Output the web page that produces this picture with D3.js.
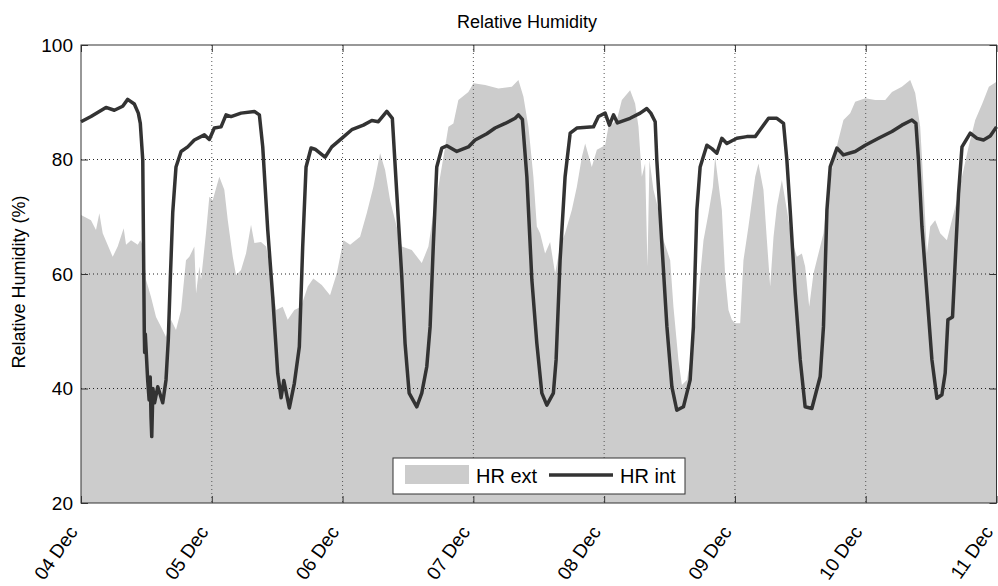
<!DOCTYPE html>
<html>
<head>
<meta charset="utf-8">
<script src="https://cdn.jsdelivr.net/npm/d3@7"></script>
<style>
  body { margin: 0; background: #fff; }
  svg { display: block; font-family: Arial, "Liberation Sans", sans-serif; }
</style>
</head>
<body>
<svg id="chart" width="998" height="586"></svg>
<script>
// hours since 04 Dec 00:00, relative humidity (%)
const hrInt = [
  [0, 86.6], [1.84, 87.5], [4.59, 89.1], [6.11, 88.6], [7.65, 89.3], [8.57, 90.5], [9.78, 89.7],
  [10.52, 88.1], [10.88, 86.3], [11.33, 79.9], [11.51, 60.2], [11.62, 49.7], [11.68, 46.3], [11.8, 49.5],
  [12.24, 41.5], [12.5, 38], [12.7, 42], [12.85, 35], [12.98, 31.6], [13.2, 40], [13.5, 37.5],
  [14.08, 40.3], [15.0, 37.5], [15.6, 41.5], [16.02, 48.5], [16.39, 59], [16.83, 70.7], [17.44, 78.7],
  [18.36, 81.4], [19.59, 82.2], [20.8, 83.4], [22.63, 84.3], [23.55, 83.5], [24.47, 85.5], [25.7, 85.7],
  [26.62, 87.8], [27.53, 87.5], [29.37, 88.1], [31.81, 88.4], [32.73, 87.8], [33.35, 82.2], [34.27, 67.7],
  [35.19, 56], [36.1, 42.6], [36.71, 38.4], [37.21, 41.4], [38.23, 36.6], [39.15, 40.9], [40.07, 47.3],
  [40.69, 64.8], [41.3, 78.7], [42.22, 82], [42.95, 81.8], [44.79, 80.4], [46.02, 82.2], [47.85, 83.7],
  [49.69, 85.2], [51.82, 86], [53.36, 86.8], [54.57, 86.6], [56.11, 88.4], [57.14, 87.2], [57.95, 74.1],
  [58.87, 59.5], [59.47, 47.9], [60.21, 39.2], [61.62, 36.8], [62.54, 39.2], [63.45, 43.8], [64.06, 50.8],
  [64.67, 65.4], [65.29, 78.7], [66.21, 82], [67.13, 82.4], [68.96, 81.4], [71.09, 82.2], [72.32, 83.4],
  [74.47, 84.5], [75.99, 85.5], [77.83, 86.3], [79.66, 87.2], [80.27, 87.8], [81.0, 87], [81.81, 77],
  [82.73, 59], [83.65, 47.9], [84.56, 39.2], [85.48, 37.1], [86.69, 39.2], [87.19, 45], [87.92, 62.4],
  [88.84, 77], [89.76, 84.6], [90.99, 85.5], [94.04, 85.7], [94.95, 87.5], [96.18, 88.1], [96.97, 86],
  [97.71, 87.8], [98.44, 86.4], [100.77, 87.2], [102.61, 88.1], [103.84, 88.9], [104.57, 88.1],
  [105.36, 86.6], [105.67, 79.9], [106.59, 65.4], [107.51, 50.8], [108.43, 40.3], [109.34, 36.2],
  [110.55, 36.8], [111.78, 41.5], [112.39, 50.8], [113.01, 71.2], [113.62, 78.7], [114.85, 82.5],
  [115.77, 81.9], [116.68, 81.1], [117.6, 83.7], [118.52, 82.8], [120.35, 83.7], [122.19, 84],
  [123.72, 84], [124.63, 85.2], [126.16, 87.2], [127.7, 87.2], [128.91, 86.3], [129.53, 79.9],
  [130.14, 71.2], [131.06, 56.6], [131.98, 45], [132.89, 36.8], [134.12, 36.5], [135.65, 42.1],
  [136.25, 50.8], [136.88, 71.2], [137.48, 78.7], [138.71, 82], [139.92, 80.8], [142.07, 81.4],
  [143.91, 82.5], [146.35, 83.7], [148.81, 84.9], [150.64, 86], [152.48, 86.9], [153.21, 86.3],
  [153.69, 79.9], [154.32, 68.3], [155.23, 56.6], [156.15, 45], [157.07, 38.3], [157.99, 38.9],
  [158.59, 42.7], [159.09, 52], [159.93, 52.5], [160.43, 62.4], [161.03, 74.1], [161.66, 82.2],
  [163.18, 84.6], [164.41, 83.7], [165.62, 83.4], [166.85, 84.1], [168, 85.7]
];

const hrExt = [
  [0, 70.3], [1.84, 69.4], [2.75, 67.7], [3.36, 70.6], [3.98, 67.1], [5.82, 63], [6.74, 64.8],
  [7.84, 68], [8.26, 65.1], [9.18, 65.9], [10.41, 65.1], [10.88, 65.9], [11.33, 65], [11.93, 59],
  [12.85, 56], [13.77, 52.5], [14.68, 50.8], [15.6, 49], [16.52, 52], [17.44, 50.2], [18.36, 53.7],
  [19.27, 62.4], [19.88, 63], [20.8, 64.8], [21.11, 56.6], [21.71, 61.3], [22.03, 59], [22.94, 67.1],
  [23.55, 73.5], [24.17, 72.9], [25.39, 77], [26.3, 74.7], [26.93, 69.4], [27.85, 63], [28.45, 59.8],
  [29.37, 60.7], [30.29, 63.6], [31.2, 68.6], [31.81, 65.4], [33.04, 65.6], [33.96, 64.8], [34.88, 60.1],
  [35.79, 53.7], [37.02, 54.3], [37.94, 52], [39.15, 53.7], [40.38, 54.3], [41.61, 57.8], [42.64, 59.2],
  [44.18, 58.1], [45.7, 56.3], [46.93, 60.1], [48.15, 65.9], [49.38, 65.1], [51.21, 66.5], [52.44, 70.6],
  [53.65, 75.2], [54.88, 81.1], [55.8, 78.2], [56.72, 72.9], [57.64, 69.4], [58.87, 64.8], [60.7, 64.2],
  [62.54, 61.9], [63.75, 64.8], [64.67, 70.6], [65.58, 75.2], [66.81, 82.2], [67.42, 85.7], [68.34, 86.3],
  [69.25, 90.4], [71.09, 91.8], [72.01, 93.3], [74.16, 93], [76.6, 92.4], [79.06, 92.7], [80.27, 93.9],
  [81.19, 91], [82.1, 85.7], [82.42, 82.8], [83.02, 77], [83.65, 68.3], [84.25, 67.1], [85.17, 63.6],
  [86.09, 65.6], [87.0, 60.1], [87.92, 64.8], [88.84, 67.1], [90.07, 71.2], [90.99, 75.2], [91.91, 80.5],
  [92.51, 82.8], [93.74, 78.7], [94.66, 81.7], [96.18, 82.5], [96.79, 85.7], [98.33, 86.9], [99.25, 90.4],
  [100.77, 92.1], [101.69, 89.8], [102.3, 85.7], [102.92, 77], [103.52, 79.3], [103.95, 61.3],
  [104.31, 79.9], [105.05, 74.7], [105.97, 71.2], [106.88, 65.9], [107.51, 64.2], [108.11, 62.4],
  [108.72, 54.3], [109.64, 45], [110.26, 40.6], [111.18, 41.5], [112.39, 47.9], [113.31, 56.6],
  [114.23, 65.9], [115.15, 70.6], [115.95, 75.2], [116.37, 80.5], [116.98, 75.8], [117.6, 71.2],
  [118.21, 59.5], [118.81, 53.7], [119.44, 52], [120.04, 51.4], [120.96, 51.4], [121.57, 62.4],
  [122.49, 68.3], [123.72, 77], [124.32, 79.3], [125.24, 74.7], [125.86, 65.9], [126.47, 57.8],
  [127.08, 66.5], [127.7, 71.8], [128.62, 76.4], [129.53, 71.2], [130.45, 65.9], [131.37, 63],
  [132.29, 63.6], [132.89, 61.3], [133.63, 54.3], [134.42, 60.1], [135.33, 63.6], [136.25, 67.1],
  [136.88, 72.9], [137.79, 78.2], [138.9, 83.1], [139.92, 86.9], [141.15, 88.1], [142.07, 90.1],
  [143.91, 90.7], [145.74, 90.4], [147.58, 90.4], [148.81, 91.8], [150.64, 92.7], [152.17, 93.9],
  [153.08, 91.6], [154.0, 85.7], [154.61, 75.2], [155.23, 63.6], [155.84, 68.3], [156.75, 69.4],
  [157.67, 67.1], [158.9, 65.9], [159.82, 69.4], [160.74, 72.9], [161.66, 77], [162.87, 82.2],
  [164.1, 86.9], [165.4, 89.8], [166.6, 92.7], [168, 93.6]
];

const yTicks = [20, 40, 60, 80, 100];
const seriesNames = ["HR ext", "HR int"];

const startDate = new Date(2013, 11, 4);
const endDate = new Date(2013, 11, 11);
const toDate = h => d3.timeMinute.offset(startDate, Math.round(h * 60));

const svg = d3.select("#chart");
const margin = {left: 81, right: 1.5, top: 45, bottom: 83};
const width = 998 - margin.left - margin.right;
const height = 586 - margin.top - margin.bottom;

const x = d3.scaleTime().domain([startDate, endDate]).range([0, width]);
const y = d3.scaleLinear().domain([20, 100]).range([height, 0]);

const g = svg.append("g").attr("transform", `translate(${margin.left},${margin.top})`);

// exterior humidity as filled area
const area = d3.area()
  .x(d => x(toDate(d[0])))
  .y0(y(20))
  .y1(d => y(d[1]));

g.append("path")
  .datum(hrExt)
  .attr("d", area)
  .attr("fill", "#cccccc");

// grid (dotted, on top of the fill like matlab)
const days = d3.timeDay.range(startDate, d3.timeDay.offset(endDate, 1));
g.append("g").selectAll("line")
  .data(days.slice(1, -1))
  .join("line")
  .attr("x1", d => x(d)).attr("x2", d => x(d))
  .attr("y1", 0).attr("y2", height)
  .attr("stroke", "#555").attr("stroke-width", 1)
  .attr("stroke-dasharray", "1,3");

g.append("g").selectAll("line")
  .data(yTicks.slice(1, -1))
  .join("line")
  .attr("x1", 0).attr("x2", width)
  .attr("y1", d => y(d)).attr("y2", d => y(d))
  .attr("stroke", "#222").attr("stroke-width", 1)
  .attr("stroke-dasharray", "1,3");

// interior humidity line
const line = d3.line()
  .x(d => x(toDate(d[0])))
  .y(d => y(d[1]));

g.append("path")
  .datum(hrInt)
  .attr("d", line)
  .attr("fill", "none")
  .attr("stroke", "#333333")
  .attr("stroke-width", 3.5)
  .attr("stroke-linejoin", "round");

// axes box with inward ticks
const axisColor = "#333";
g.append("rect")
  .attr("x", 0).attr("y", 0)
  .attr("width", width).attr("height", height)
  .attr("fill", "none").attr("stroke", axisColor).attr("stroke-width", 1);

const tickLen = 7;
const yAxis = d3.axisLeft(y).tickValues(yTicks).tickSize(-tickLen).tickPadding(8);
const yAxisG = g.append("g").call(yAxis);
yAxisG.select(".domain").remove();
yAxisG.selectAll(".tick line").attr("stroke", axisColor);
yAxisG.selectAll(".tick text").attr("font-size", 19).attr("fill", "#000");

g.append("g").attr("transform", `translate(${width},0)`)
  .call(d3.axisRight(y).tickValues(yTicks).tickSize(-tickLen).tickFormat(""))
  .call(a => a.select(".domain").remove())
  .selectAll(".tick line").attr("stroke", axisColor);

const xAxis = d3.axisBottom(x).tickValues(days).tickSize(-tickLen).tickFormat(d3.timeFormat("%d %b"));
const xAxisG = g.append("g").attr("transform", `translate(0,${height})`).call(xAxis);
xAxisG.select(".domain").remove();
xAxisG.selectAll(".tick line").attr("stroke", axisColor);
xAxisG.selectAll(".tick text")
  .attr("font-size", 19)
  .attr("fill", "#000")
  .attr("text-anchor", "end")
  .attr("x", 0).attr("y", 0).attr("dy", 0)
  .attr("transform", "translate(-3,29) rotate(-55)");

g.append("g")
  .call(d3.axisTop(x).tickValues(days).tickSize(-tickLen).tickFormat(""))
  .call(a => a.select(".domain").remove())
  .selectAll(".tick line").attr("stroke", axisColor);

// title and y label
svg.append("text")
  .attr("x", 527).attr("y", 28)
  .attr("text-anchor", "middle")
  .attr("font-size", 18)
  .text("Relative Humidity");

svg.append("text")
  .attr("transform", `translate(25,${margin.top + height / 2 + 8}) rotate(-90)`)
  .attr("text-anchor", "middle")
  .attr("font-size", 18)
  .text("Relative Humidity (%)");

// legend
const lg = svg.append("g").attr("transform", "translate(393,458)");
lg.append("rect")
  .attr("width", 292).attr("height", 36)
  .attr("fill", "#fff").attr("stroke", axisColor).attr("stroke-width", 1);
lg.append("rect")
  .attr("x", 12).attr("y", 7).attr("width", 64).attr("height", 19)
  .attr("fill", "#cccccc");
lg.append("text")
  .attr("x", 83).attr("y", 25).attr("font-size", 20)
  .text(seriesNames[0]);
lg.append("line")
  .attr("x1", 156).attr("x2", 220).attr("y1", 17).attr("y2", 17)
  .attr("stroke", "#333333").attr("stroke-width", 3.5);
lg.append("text")
  .attr("x", 227).attr("y", 25).attr("font-size", 20)
  .text(seriesNames[1]);
</script>
</body>
</html>
